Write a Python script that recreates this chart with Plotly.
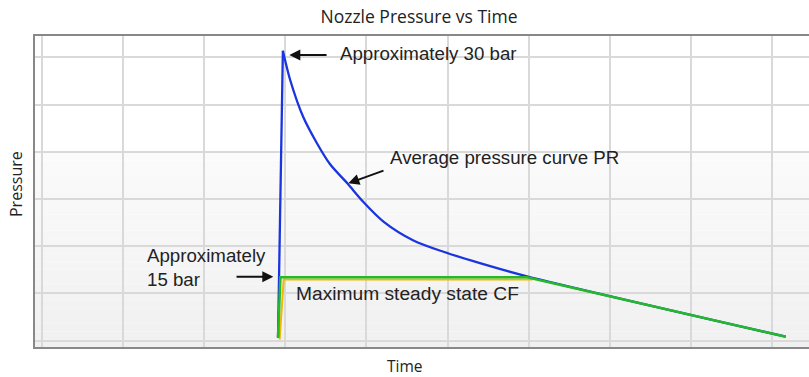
import plotly.graph_objects as go

# average pressure curve PR (time in grid units, pressure in bar)
time_pr = [2.91, 2.97, 3.06, 3.22, 3.39, 3.55, 3.77, 3.96, 4.21, 4.58, 4.95, 5.40, 5.98, 9.17]
pressure_pr = [0.3, 30.7, 27.6, 23.7, 20.9, 18.7, 16.6, 14.7, 12.6, 10.6, 9.4, 8.2, 6.8, 0.4]

# maximum steady state CF
time_cf = [2.91, 2.94, 5.98, 9.17]
pressure_cf = [0.3, 6.7, 6.7, 0.4]

# yellow edge under the CF line
time_edge = [2.93, 2.98, 6.05]
pressure_edge = [0.1, 6.45, 6.45]

fig = go.Figure()

fig.add_trace(go.Scatter(x=time_edge, y=pressure_edge, mode="lines",
                         line=dict(color="#f2b800", width=2), hoverinfo="skip"))
# steep rise drawn straight, decay drawn smooth
fig.add_trace(go.Scatter(x=time_pr[:2], y=pressure_pr[:2], mode="lines",
                         line=dict(color="#1a35e0", width=2.3), name="PR"))
fig.add_trace(go.Scatter(x=time_pr[1:], y=pressure_pr[1:], mode="lines",
                         line=dict(color="#1a35e0", width=2.3, shape="spline", smoothing=0.8),
                         name="PR"))
fig.add_trace(go.Scatter(x=time_cf, y=pressure_cf, mode="lines",
                         line=dict(color="#25b92a", width=2.5), name="CF"))

# light vertical gradient in the plot area
shapes = []
n = 40
for i in range(n):
    t0 = i / n
    t1 = (i + 1) / n
    py = 347 - 311 * (t0 + t1) / 2
    if py < 150:
        c = 255
    else:
        f = (py - 150) / (347 - 150)
        c = int(round(251 - f * 11))
    shapes.append(dict(type="rect", xref="paper", yref="paper", x0=0, x1=1, y0=t0, y1=t1,
                       fillcolor=f"rgb({c},{c},{min(c + 1, 255)})", line=dict(width=0), layer="below"))

ann_font = dict(family="Liberation Sans, Arial", size=18.7, color="#222222")
arrow = dict(showarrow=True, arrowhead=2, arrowsize=1.1, arrowwidth=2, arrowcolor="#111",
             axref="x", ayref="y", xref="x", yref="y", text="")
annotations = [
    dict(x=3.049, y=30.24, ax=3.527, ay=30.24, **arrow),
    dict(x=3.65, y=30.45, xref="x", yref="y", text="Approximately 30 bar", showarrow=False,
         xanchor="left", yanchor="middle", font=ann_font),
    dict(x=3.777, y=16.65, ax=4.229, ay=18.06, **arrow),
    dict(x=4.266, y=19.44, xref="x", yref="y", text="Average pressure curve PR", showarrow=False,
         xanchor="left", yanchor="middle", font=ann_font),
    dict(x=2.852, y=6.76, ax=2.38, ay=6.76, **arrow),
    dict(x=1.27, y=7.73, xref="x", yref="y", text="Approximately<br>15 bar", showarrow=False,
         xanchor="left", yanchor="middle", align="left", font=ann_font),
    dict(x=3.11, y=4.95, xref="x", yref="y", text="Maximum steady state CF", showarrow=False,
         xanchor="left", yanchor="middle", font=dict(family="Liberation Sans, Arial", size=19.2,
                                                    color="#222222")),
    dict(x=(405 - 35) / 774, y=(347 - 366) / 311, xref="paper", yref="paper", text="Time",
         showarrow=False, xanchor="center", yanchor="middle",
         font=dict(family="Open Sans", size=15.5, color="#222")),
    dict(x=(16 - 35) / 774, y=(347 - 184) / 311, xref="paper", yref="paper", text="Pressure",
         showarrow=False, textangle=-90, xanchor="center", yanchor="middle",
         font=dict(family="Open Sans", size=16, color="#222")),
]

fig.update_layout(
    width=809, height=377,
    margin=dict(l=35, r=0, t=36, b=30, autoexpand=False),
    title=dict(text="Nozzle Pressure vs Time", x=419 / 809, xanchor="center", y=1 - 17 / 377,
               yanchor="middle", font=dict(family="Open Sans", size=17.5, color="#222")),
    paper_bgcolor="white",
    plot_bgcolor="white",
    showlegend=False,
    shapes=shapes,
    annotations=annotations,
)

fig.update_xaxes(range=[-0.0863, 9.457], tick0=0, dtick=1, showticklabels=False, ticks="",
                 showgrid=True, gridcolor="#d9d9d9", gridwidth=1.5, zeroline=False,
                 showline=True, mirror=True, linecolor="#888888", linewidth=2)
fig.update_yaxes(range=[-0.689, 32.26], tick0=0, dtick=5, showticklabels=False, ticks="",
                 showgrid=True, gridcolor="#d9d9d9", gridwidth=1.5, zeroline=False,
                 showline=True, mirror=False, linecolor="#888888", linewidth=2)

fig.write_html("out.html", config={"displayModeBar": False},
               post_script="document.body.style.margin='0';")
